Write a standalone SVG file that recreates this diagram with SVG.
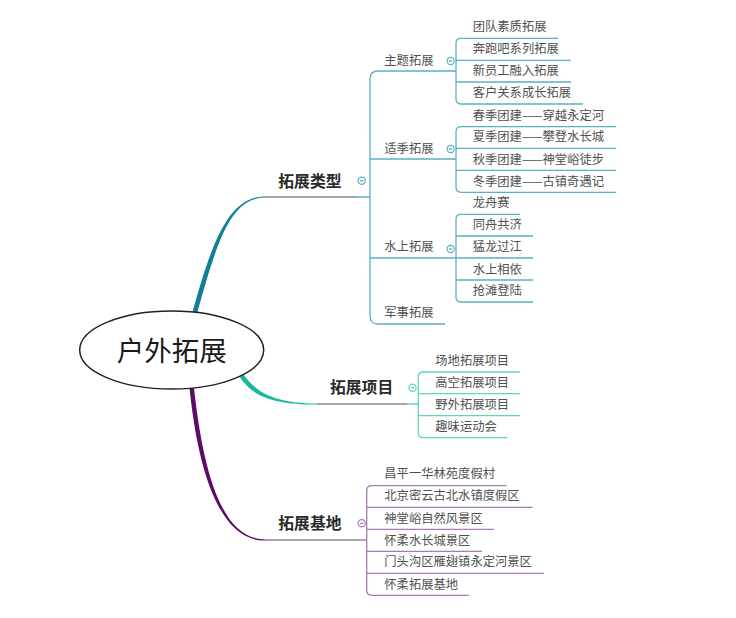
<svg xmlns="http://www.w3.org/2000/svg" width="736" height="618" viewBox="0 0 736 618">
<style>
.leaf{font-family:"Noto Sans CJK SC","Liberation Sans",sans-serif;font-size:12.3px;fill:#505050}
.l1{font-family:"Noto Sans CJK SC","Liberation Sans",sans-serif;font-size:15.8px;font-weight:bold;fill:#2a2a2a}
.root{font-family:"Noto Sans CJK SC","Liberation Serif",serif;font-size:27.5px;fill:#1a1a1a}
.ln{fill:none;stroke-width:1.3}
.t1{stroke:#5bb0c5}
.t2{stroke:#5fd3c4}
.t3{stroke:#a57bb5}
.gray{stroke:#8a8a8a}
.tog{fill:#fff;stroke-width:1.2}
</style>
<rect width="736" height="618" fill="#fff"/>
<g id="connectors">
<path d="M192.5,312 C212.5,240 229,196.4 265,196.4 L265,197.6 C231,197.6 217.5,240 197.5,312 Z" fill="#137f95"/>
<path d="M243.5,374.7 C257,393 276,403.4 317,403.4 L317,404.6 C274,404.6 253,397 239.9,377.3 Z" fill="#1ab89f"/>
<path d="M189.5,388 C198,470 219,540.6 265,540.6 L265,539.4 C221,539.4 203,470 194,388 Z" fill="#5c0b66"/>
<path class="ln gray" d="M265,197 H357 M317,404 H407 M265,540 H357"/>
<path class="ln t1" d="M357,197 H370 M456,71 H378 Q370,71 370,79 V316 Q370,324 378,324 H445 M370,159 H456 M370,258 H456"/>
<path class="ln t1" d="M558,38.3 H461 Q456,38.3 456,43.3 V99 Q456,104 461,104 H583 M456,60.3 H571 M456,82 H571"/>
<path class="ln t1" d="M616,126.7 H461 Q456,126.7 456,131.7 V187.3 Q456,192.3 461,192.3 H616 M456,148.3 H616 M456,170.3 H616"/>
<path class="ln t1" d="M520,214.3 H461 Q456,214.3 456,219.3 V297 Q456,302 461,302 H533 M456,236 H533 M456,258 H533 M456,280 H533"/>
<path class="ln t2" d="M407,404 H418.3 M520,372 H423.3 Q418.3,372 418.3,377 V432.7 Q418.3,437.7 423.3,437.7 H507.3 M418.3,393.7 H520 M418.3,415.7 H520"/>
<path class="ln t3" d="M357,540 H366.7 M506.7,485.7 H371.7 Q366.7,485.7 366.7,490.7 V590.3 Q366.7,595.3 371.7,595.3 H469 M366.7,507.3 H532.7 M366.7,529.3 H494 M366.7,551.3 H482 M366.7,573.3 H544"/>
</g>
<g id="root">
<ellipse cx="171.7" cy="350" rx="92" ry="39" fill="#fff" stroke="#222" stroke-width="1.5"/>
<text class="root" x="171.7" y="360.5" text-anchor="middle">户外拓展</text>
</g>
<g id="n-types">
<text class="l1" x="278.3" y="186.5">拓展类型</text>
<circle class="tog t1" cx="361.7" cy="180.7" r="3.6"/><path class="ln t1" d="M359.9,180.7 H363.5"/>
</g>
<g id="n-theme">
<text class="leaf" x="384.3" y="65.4">主题拓展</text>
<circle class="tog t1" cx="450.7" cy="61" r="3.6"/><path class="ln t1" d="M448.9,61 H452.5"/>
</g>
<g id="n-theme-items">
<text class="leaf" x="472.7" y="30.7">团队素质拓展</text>
<text class="leaf" x="472.7" y="53">奔跑吧系列拓展</text>
<text class="leaf" x="472.7" y="75.4">新员工融入拓展</text>
<text class="leaf" x="472.7" y="97">客户关系成长拓展</text>
</g>
<g id="n-season">
<text class="leaf" x="384.3" y="153">适季拓展</text>
<circle class="tog t1" cx="450.7" cy="149" r="3.6"/><path class="ln t1" d="M448.9,149 H452.5"/>
</g>
<g id="n-season-items">
<text class="leaf" x="472.7" y="119.7">春季团建——穿越永定河</text>
<text class="leaf" x="472.7" y="141.4">夏季团建——攀登水长城</text>
<text class="leaf" x="472.7" y="163.7">秋季团建——神堂峪徒步</text>
<text class="leaf" x="472.7" y="185.7">冬季团建——古镇奇遇记</text>
</g>
<g id="n-water">
<text class="leaf" x="384.3" y="251.4">水上拓展</text>
<circle class="tog t1" cx="450.7" cy="249" r="3.6"/><path class="ln t1" d="M448.9,249 H452.5"/>
</g>
<g id="n-water-items">
<text class="leaf" x="472.7" y="207.4">龙舟赛</text>
<text class="leaf" x="472.7" y="229.2">同舟共济</text>
<text class="leaf" x="472.7" y="251.4">猛龙过江</text>
<text class="leaf" x="472.7" y="273.6">水上相依</text>
<text class="leaf" x="472.7" y="295.4">抢滩登陆</text>
</g>
<g id="n-military">
<text class="leaf" x="384.3" y="317">军事拓展</text>
</g>
<g id="n-projects">
<text class="l1" x="330" y="392.7">拓展项目</text>
<circle class="tog t2" cx="412.5" cy="387.7" r="3.6"/><path class="ln t2" d="M410.7,387.7 H414.3"/>
</g>
<g id="n-project-items">
<text class="leaf" x="435.3" y="364.7">场地拓展项目</text>
<text class="leaf" x="435.3" y="387">高空拓展项目</text>
<text class="leaf" x="435.3" y="408.7">野外拓展项目</text>
<text class="leaf" x="435.3" y="431.4">趣味运动会</text>
</g>
<g id="n-bases">
<text class="l1" x="278.3" y="528.7">拓展基地</text>
<circle class="tog t3" cx="361.7" cy="523.3" r="3.6"/><path class="ln t3" d="M359.9,523.3 H363.5"/>
</g>
<g id="n-base-items">
<text class="leaf" x="384.3" y="478">昌平一华林苑度假村</text>
<text class="leaf" x="384.3" y="500.4">北京密云古北水镇度假区</text>
<text class="leaf" x="384.3" y="523">神堂峪自然风景区</text>
<text class="leaf" x="384.3" y="544.7">怀柔水长城景区</text>
<text class="leaf" x="384.3" y="566.4">门头沟区雁翅镇永定河景区</text>
<text class="leaf" x="384.3" y="588.7">怀柔拓展基地</text>
</g>
</svg>
